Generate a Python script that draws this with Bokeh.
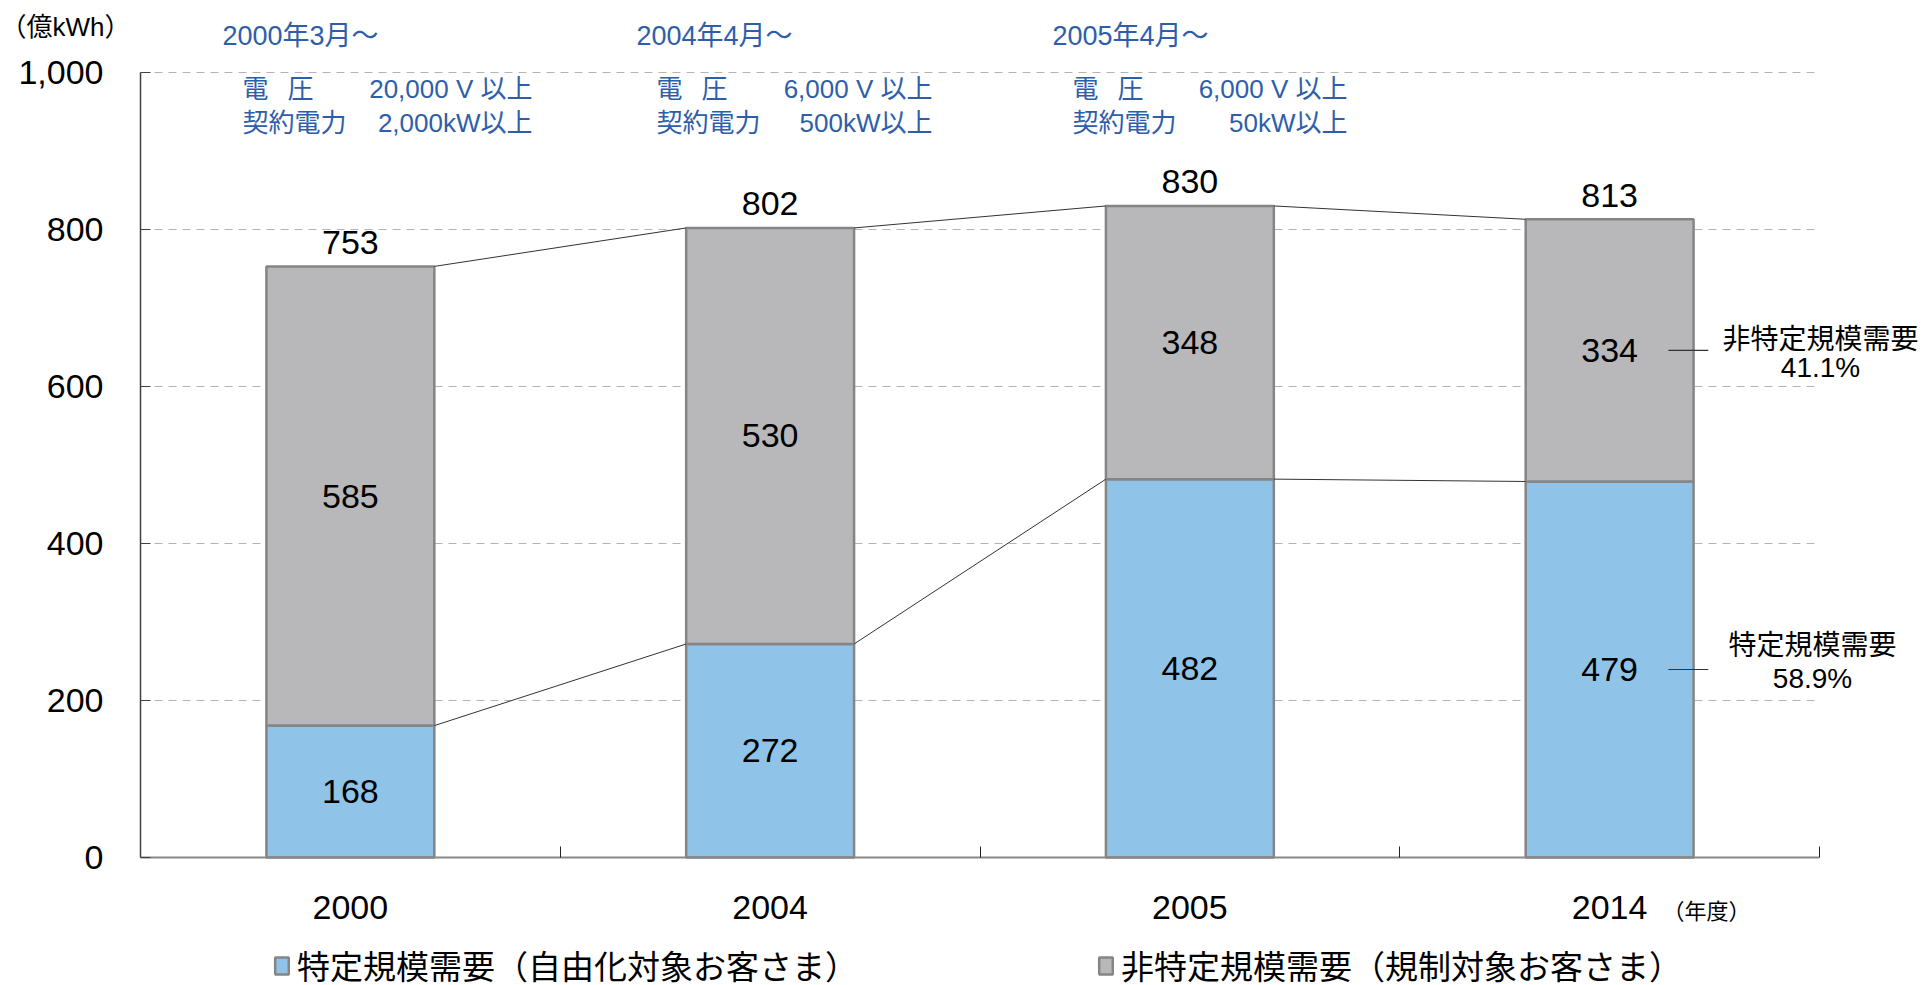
from bokeh.plotting import figure
from bokeh.models import (Range1d, FixedTicker, NumeralTickFormatter, Label,
                          Legend, LegendItem, ColumnDataSource)
from bokeh.core.properties import value
from bokeh.embed import file_html
from bokeh.resources import INLINE

# ---------------- data ----------------
categories = ["2000", "2004", "2005", "2014"]
specific = [168, 272, 482, 479]          # 特定規模需要
non_specific = [585, 530, 348, 334]      # 非特定規模需要
totals = [753, 802, 830, 813]
y_ticks = [0, 200, 400, 600, 800, 1000]
periods = ["2000年3月～", "2004年4月～", "2005年4月～"]
voltage = ["20,000 V 以上", "6,000 V 以上", "6,000 V 以上"]
contract = ["2,000kW以上", "500kW以上", "50kW以上"]
legend_labels = ["特定規模需要（自由化対象お客さま）", "非特定規模需要（規制対象お客さま）"]
side_names = ["非特定規模需要", "特定規模需要"]
unit_label = "（億kWh）"
year_unit = "（年度）"

# ---------------- style / layout ----------------
FONT = "Liberation Sans, Noto Sans CJK JP"
BLUE = "#8fc4e8"
GRAY = "#b8b8ba"
EDGE = "#858585"
TXT_BLUE = "#2e5eaa"

W, H = 1926, 985
# chart area placement on the canvas (px)
AL, AR, AT, AB = 140, 1819, 72, 857
n = len(categories)
YMAX = y_ticks[-1]
kx = (AR - AL) / n          # px per category
ky = (AB - AT) / YMAX       # px per unit

p = figure(width=W, height=H,
           x_range=Range1d(-AL / kx, (W - AL) / kx),
           y_range=Range1d(-(H - AB) / ky, AB / ky),
           output_backend="svg", toolbar_location=None, title=None,
           min_border=0)
p.outline_line_color = None
p.background_fill_color = "white"
p.border_fill_color = "white"
p.xgrid.visible = False
p.ygrid.visible = False

xs = [i + 0.5 for i in range(n)]
tops = [s + ns for s, ns in zip(specific, non_specific)]
src = ColumnDataSource(dict(x=xs, spec=specific, top=tops))

# dashed horizontal grid lines across the chart area
gy = y_ticks[1:]
p.segment(x0=[0] * len(gy), y0=gy, x1=[n] * len(gy), y1=gy,
          line_color="#b4b4b4", line_dash="8 6", line_width=1)

BW = 0.4
r_spec = p.vbar(x="x", width=BW, bottom=0, top="spec", source=src,
                fill_color=BLUE, line_color=EDGE, line_width=2.5)
r_non = p.vbar(x="x", width=BW, bottom="spec", top="top", source=src,
               fill_color=GRAY, line_color=EDGE, line_width=2.5)

# connector lines between bars
x0 = [x + BW / 2 for x in xs[:-1]]
x1 = [x - BW / 2 for x in xs[1:]]
p.segment(x0=x0, y0=tops[:-1], x1=x1, y1=tops[1:], line_color="#333333", line_width=1)
p.segment(x0=x0, y0=specific[:-1], x1=x1, y1=specific[1:], line_color="#333333", line_width=1)

# value labels
TXT = dict(text_align="center", text_baseline="middle", text_font_size="34px",
           text_font=value(FONT), text_color="black")
p.text(x=xs, y=[s / 2 for s in specific], text=[str(v) for v in specific], **TXT)
p.text(x=xs, y=[s + ns / 2 for s, ns in zip(specific, non_specific)],
       text=[str(v) for v in non_specific], **TXT)
p.text(x=xs, y=totals, y_offset=-24, text=[str(v) for v in totals], **TXT)

# leader lines beside the last bar
lx = xs[-1]
mids = [specific[-1] + non_specific[-1] / 2, specific[-1] / 2]
p.segment(x0=[lx + 0.14] * 2, y0=mids, x1=[lx + 0.235] * 2, y1=mids,
          line_color="#333333", line_width=1.2)

# ---------------- axes ----------------
p.yaxis.fixed_location = 0
p.yaxis.bounds = (0, YMAX)
p.yaxis.ticker = FixedTicker(ticks=y_ticks)
p.yaxis.formatter = NumeralTickFormatter(format="0,0")
p.yaxis.major_tick_in = 10
p.yaxis.major_tick_out = 0
p.yaxis.minor_tick_in = 0
p.yaxis.minor_tick_out = 0
p.yaxis.axis_line_color = "#404040"
p.yaxis.axis_line_width = 1.5
p.yaxis.major_tick_line_color = "#404040"
p.yaxis.major_label_text_font_size = "34px"
p.yaxis.major_label_text_font = FONT
p.yaxis.major_label_text_color = "black"
p.yaxis.major_label_standoff = 37

p.xaxis.fixed_location = 0
p.xaxis.bounds = (0, n)
p.xaxis.ticker = FixedTicker(ticks=xs, minor_ticks=list(range(1, n + 1)))
p.xaxis.major_label_overrides = {x: c for x, c in zip(xs, categories)}
p.xaxis.major_tick_in = 0
p.xaxis.major_tick_out = 0
p.xaxis.minor_tick_in = 11
p.xaxis.minor_tick_out = 0
p.xaxis.minor_tick_line_color = "#222222"
p.xaxis.axis_line_color = "#888888"
p.xaxis.axis_line_width = 2
p.xaxis.major_label_text_font_size = "34px"
p.xaxis.major_label_text_font = FONT
p.xaxis.major_label_text_color = "black"
p.xaxis.major_label_standoff = 38


def lab(text, X, Y, size, color="black", align="left"):
    """Annotation text placed by canvas pixel position (y measured from top)."""
    p.add_layout(Label(x=X, y=H - Y, x_units="screen", y_units="screen",
                       text=text, text_font_size=f"{size}px", text_font=FONT,
                       text_color=color, text_align=align, text_baseline="middle"))


lab(unit_label, 0, 26, 26)
lab(year_unit, 1662, 911, 22)

# regulation annotations above the bars
hdr_x = [222, 636, 1052]
line_x = [242, 656, 1072]
right_x = [532, 932, 1347]
for i in range(len(periods)):
    lab(periods[i], hdr_x[i], 35, 27, TXT_BLUE)
    lab("電", line_x[i], 88, 26, TXT_BLUE)
    lab("圧", line_x[i] + 45, 88, 26, TXT_BLUE)
    lab(voltage[i], right_x[i], 88, 26, TXT_BLUE, "right")
    lab("契約電力", line_x[i], 122, 26, TXT_BLUE)
    lab(contract[i], right_x[i], 122, 26, TXT_BLUE, "right")

# share annotations at the right
shares = [non_specific[-1] / totals[-1] * 100, specific[-1] / totals[-1] * 100]
lab(side_names[0], 1820, 339, 28, "black", "center")
lab(f"{shares[0]:.1f}%", 1820, 367, 28, "black", "center")
lab(side_names[1], 1812, 645, 28, "black", "center")
lab(f"{shares[1]:.1f}%", 1812, 678, 28, "black", "center")

# legend (two single-item legends)
for r, text, gx in [(r_spec, legend_labels[0], 273), (r_non, legend_labels[1], 1097)]:
    leg = Legend(items=[LegendItem(label=text, renderers=[r])],
                 location=(gx, -4), orientation="horizontal",
                 border_line_color=None, background_fill_alpha=0,
                 padding=0, margin=0, spacing=0,
                 glyph_width=17, glyph_height=21, label_standoff=7,
                 label_text_font_size="33px", label_text_font=FONT,
                 label_text_color="black")
    p.add_layout(leg)

open("out.html", "w").write(file_html(p, INLINE))
